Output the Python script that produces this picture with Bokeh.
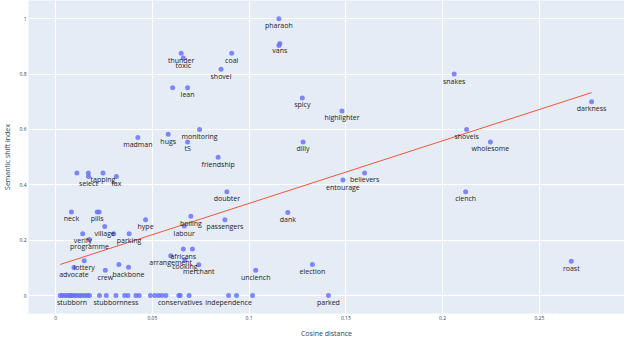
from bokeh.plotting import figure
from bokeh.models import ColumnDataSource, FixedTicker, Range1d
from bokeh.core.properties import value
from bokeh.embed import file_html
from bokeh.resources import INLINE

words = ["pharaoh", "vans", "", "coal", "shovel", "thunder", "toxic", "", "lean",
         "spicy", "highlighter", "snakes", "darkness", "monitoring", "hugs", "madman",
         "tS", "dilly", "shovels", "wholesome", "friendship", "believers", "entourage",
         "", "", "tapping", "select", "fax", "doubter", "clench", "dank", "neck",
         "pills", "", "hype", "passengers", "boiling", "labour", "village", "verify",
         "", "parking", "programme", "africans", "", "arrangement", "cooking",
         "merchant", "election", "lottery", "roast", "advocate", "crew", "", "backbone",
         "unclench",
         "", "", "", "", "", "", "stubborn", "", "", "", "", "", "",
         "", "", "stubbornness", "", "", "", "", "", "", "", "", "", "", "conservatives",
         "", "independence", "", "", "", "parked"]
cosine_distance = [0.1154, 0.1159, 0.1154, 0.091, 0.0855, 0.0649, 0.066, 0.0605, 0.0682,
                   0.1275, 0.148, 0.206, 0.277, 0.0744, 0.0582, 0.0425,
                   0.0682, 0.1279, 0.2124, 0.2247, 0.084, 0.1597, 0.1485,
                   0.011, 0.0169, 0.0245, 0.017, 0.0314, 0.0885, 0.2119, 0.12, 0.0082,
                   0.0215, 0.0225, 0.0465, 0.0875, 0.0699, 0.0665, 0.0254, 0.014,
                   0.030, 0.038, 0.0175, 0.066, 0.0707, 0.0595, 0.0668,
                   0.074, 0.1327, 0.0148, 0.2665, 0.0095, 0.0257, 0.0327, 0.0377,
                   0.1034,
                   0.0024, 0.0035, 0.0048, 0.006, 0.0073, 0.0079, 0.0085, 0.0098, 0.011, 0.0123, 0.0135, 0.015, 0.0163,
                   0.0175, 0.0227, 0.0312, 0.0262, 0.0357, 0.0374, 0.0415, 0.0432, 0.049, 0.0513, 0.0533, 0.055, 0.057, 0.0644,
                   0.0637, 0.0894, 0.0935, 0.069, 0.1018, 0.141]
shift_index = [1.0, 0.911, 0.903, 0.875, 0.818, 0.875, 0.858, 0.751, 0.751,
               0.714, 0.667, 0.8, 0.7, 0.6, 0.583, 0.571,
               0.555, 0.555, 0.6, 0.555, 0.5, 0.443, 0.417,
               0.443, 0.443, 0.443, 0.43, 0.43, 0.375, 0.375, 0.3, 0.302,
               0.302, 0.302, 0.274, 0.274, 0.286, 0.251, 0.249, 0.223,
               0.223, 0.223, 0.202, 0.168, 0.168, 0.144, 0.129,
               0.111, 0.112, 0.126, 0.124, 0.101, 0.0915, 0.112, 0.102,
               0.0915,
               0, 0, 0, 0, 0, 0, 0, 0, 0, 0, 0, 0, 0,
               0, 0, 0, 0, 0, 0, 0, 0, 0, 0, 0, 0, 0, 0,
               0, 0, 0, 0, 0, 0]

trend_slope = 2.262
trend_intercept = 0.1067

x_ticks = [0, 0.05, 0.1, 0.15, 0.2, 0.25]
x_tick_labels = ["0", "0.05", "0.1", "0.15", "0.2", "0.25"]
y_ticks = [0, 0.2, 0.4, 0.6, 0.8, 1.0]
y_tick_labels = ["0", "0.2", "0.4", "0.6", "0.8", "1"]

src = ColumnDataSource(dict(x=cosine_distance, y=shift_index, w=words))
tx = [min(cosine_distance), max(cosine_distance)]
ty = [trend_intercept + trend_slope * v for v in tx]

p = figure(width=624, height=340, output_backend="svg", toolbar_location=None,
           x_range=Range1d(-0.014, 0.294), y_range=Range1d(-0.065, 1.066),
           min_border_left=16, min_border_right=0, min_border_top=0, min_border_bottom=0)
p.background_fill_color = "#E5ECF6"
p.border_fill_color = "white"
p.outline_line_color = None

p.scatter("x", "y", source=src, size=5, fill_color="#636EFA", fill_alpha=0.8,
          line_color=None)
p.line(tx, ty, line_color="#EF553B", line_width=1)
p.text("x", "y", text="w", source=src, text_font=value("Open Sans"),
       text_font_size="7px", text_color="#222222", text_align="center",
       text_baseline="middle", y_offset=7)

for ax in (p.xaxis[0], p.yaxis[0]):
    ax.axis_line_color = None
    ax.major_tick_line_color = None
    ax.minor_tick_line_color = None
    ax.major_tick_out = 0
    ax.major_tick_in = 0
    ax.minor_tick_out = 0
    ax.minor_tick_in = 0
    ax.major_label_text_font = "Open Sans"
    ax.major_label_text_font_size = "5px"
    ax.major_label_text_color = "#2a3f5f"
    ax.axis_label_text_font = "Open Sans"
    ax.axis_label_text_font_size = "7px"
    ax.axis_label_text_font_style = "normal"
    ax.axis_label_text_color = "#2a3f5f"
    ax.major_label_standoff = 2

p.xaxis.ticker = FixedTicker(ticks=x_ticks)
p.yaxis.ticker = FixedTicker(ticks=y_ticks)
p.xaxis.major_label_overrides = dict(zip(x_ticks, x_tick_labels))
p.yaxis.major_label_overrides = dict(zip(y_ticks, y_tick_labels))
p.xaxis.axis_label = "Cosine distance"
p.yaxis.axis_label = "Semantic shift index"
p.xaxis.axis_label_standoff = 6
p.yaxis.axis_label_standoff = 4
p.grid.grid_line_color = "white"
p.grid.grid_line_width = 1
p.xgrid.ticker = FixedTicker(ticks=x_ticks)
p.ygrid.ticker = FixedTicker(ticks=y_ticks)

open("out.html", "w").write(file_html(p, INLINE))
